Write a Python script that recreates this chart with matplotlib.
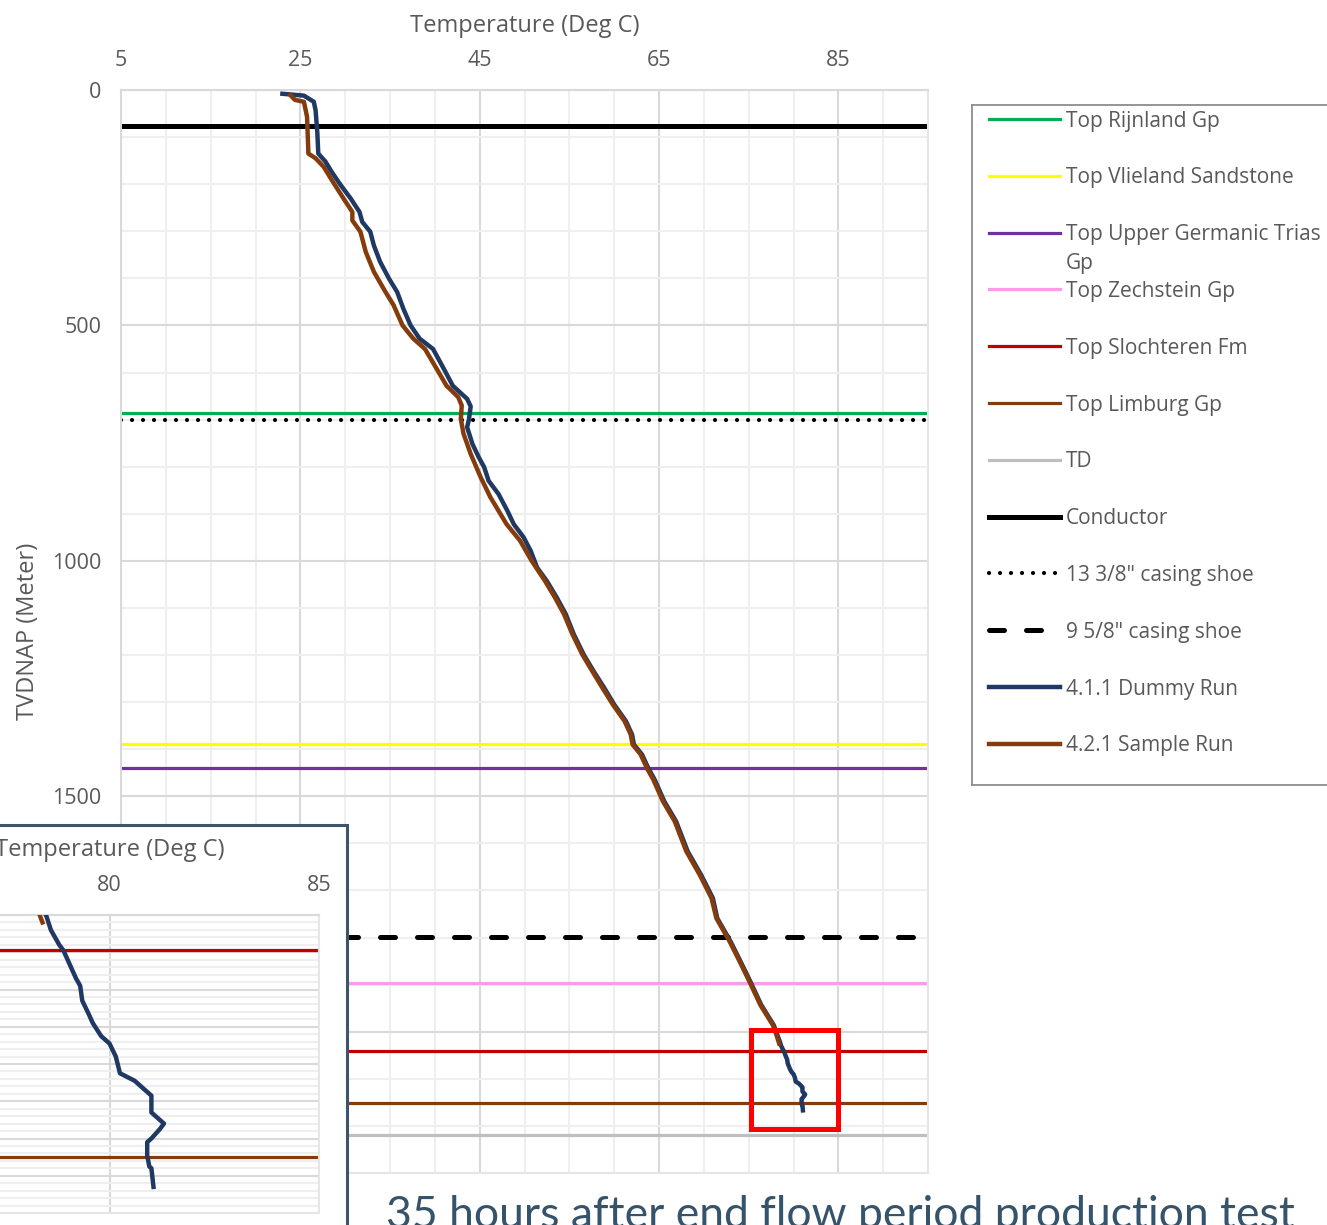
import numpy as np
import matplotlib
matplotlib.use("Agg")
import matplotlib.pyplot as plt
from matplotlib.patches import Rectangle
from matplotlib.lines import Line2D

plt.rcParams['font.family'] = ['Open Sans', 'DejaVu Sans']

W, H = 1327, 1225

# temperature logs (depth in m TVDNAP, temperature in deg C)
dummy_depth = [8, 12, 25, 43, 92, 135, 152, 174, 202, 230, 259, 280, 301, 330, 365, 401, 429, 465,
               500, 528, 550, 592, 628, 656, 672, 700, 716, 752, 780, 801, 830, 858, 894, 922, 950,
               979, 1014, 1043, 1078, 1113, 1156, 1199, 1234, 1270, 1305, 1340, 1369, 1390, 1411,
               1440, 1464, 1511, 1553, 1617, 1667, 1716, 1759, 1809, 1851, 1894, 1943, 1986, 2007,
               2022, 2029, 2037, 2040, 2045, 2050, 2055, 2059, 2067, 2074, 2079, 2086, 2090, 2097,
               2106, 2110, 2115, 2118, 2127, 2133, 2136, 2141, 2143, 2150, 2156, 2157, 2167]
dummy_temp = [23.0, 25.4, 26.5, 26.7, 26.9, 27.0, 27.8, 28.5, 29.5, 30.6, 31.6, 31.9, 32.8, 33.2,
              33.9, 34.9, 35.8, 36.5, 37.3, 38.3, 39.8, 41.0, 42.0, 43.6, 44.0, 43.8, 43.6, 44.2,
              44.9, 45.5, 46.0, 47.1, 48.1, 48.8, 49.9, 50.7, 51.4, 52.5, 53.6, 54.6, 55.5, 56.6,
              57.7, 58.9, 60.0, 61.3, 62.0, 62.2, 63.1, 63.8, 64.5, 65.6, 66.9, 68.2, 69.7, 71.0,
              71.5, 73.0, 74.1, 75.2, 76.4, 77.8, 78.2,
              78.5, 78.6, 78.8, 78.9, 79.0, 79.1, 79.2, 79.3, 79.35, 79.5, 79.6, 79.8, 80.0, 80.15,
              80.25, 80.6, 80.85, 81.0, 81.0, 81.3, 81.2, 81.0, 80.9, 80.9, 80.95, 81.0, 81.05]

sample_depth = [11, 21, 25, 57, 135, 145, 163, 191, 230, 259, 277, 301, 344, 386, 429, 457, 500,
                528, 550, 592, 628, 652, 670, 699, 730, 773, 822, 865, 922, 957, 1000, 1043, 1078,
                1113, 1156, 1199, 1234, 1270, 1305, 1340, 1369, 1390, 1411, 1440, 1464, 1511, 1553,
                1617, 1667, 1716, 1759, 1809, 1851, 1894, 1943, 1986, 2007, 2025]
sample_temp = [23.9, 24.4, 25.4, 25.75, 25.9, 26.7, 27.6, 28.5, 29.8, 30.8, 30.8, 31.7, 32.3, 33.2,
               34.5, 35.4, 36.4, 37.6, 38.9, 40.2, 41.3, 42.6, 43.0, 42.9, 43.2, 44.0, 45.1, 46.2,
               48.0, 49.5, 50.8, 52.3, 53.4, 54.4, 55.35, 56.45, 57.55, 58.7, 59.85, 61.15, 61.85,
               62.05, 62.95, 63.65, 64.35, 65.45, 66.75, 68.05, 69.55, 70.85, 71.4, 72.9, 74.0,
               75.1, 76.3, 77.7, 78.1, 78.4]

# formation tops and casing points (m)
top_names = ["Top Rijnland Gp", "Top Vlieland Sandstone", "Top Upper Germanic Trias\nGp",
             "Top Zechstein Gp", "Top Slochteren Fm", "Top Limburg Gp", "TD"]
top_depths = [687, 1389, 1440, 1896, 2040, 2151, 2219]
casing_names = ["Conductor", '13 3/8" casing shoe', '9 5/8" casing shoe']
casing_depths = [77, 700, 1799]
run_names = ["4.1.1 Dummy Run", "4.2.1 Sample Run"]

# zoom window shown in the inset
zoom_box = (75.3, 1996, 85.0, 2207)

# styles
top_colors = ['#00B050', '#FFFF00', '#7030A0', '#FA9CEC', '#C00000', '#843C0C', '#BFBFBF']
casing_styles = [dict(ls='-', lw=3.6),
                 dict(ls=(0, (0.01, 2.63)), lw=3.0, dash_capstyle='round'),
                 dict(ls=(0, (3.0, 4.4)), lw=3.6, dash_capstyle='round')]
run_colors = ['#203864', '#843C0C']
TXT = '#595959'


def px_axes(left, top, right, bottom):
    return fig.add_axes([left / W, 1 - bottom / H, (right - left) / W, (bottom - top) / H])


def style_axes(ax, xticks, xminor, yticks, yminor):
    ax.xaxis.tick_top()
    ax.xaxis.set_label_position('top')
    ax.set_xticks(xticks)
    ax.set_xticks(xminor, minor=True)
    ax.set_yticks(yticks)
    ax.set_yticks(yminor, minor=True)
    ax.set_axisbelow(True)
    ax.grid(which='major', color='#D9D9D9', lw=1.5)
    ax.grid(which='minor', color='#EFEFEF', lw=1.5)
    ax.tick_params(which='both', length=0, labelsize=15.5, labelcolor=TXT, pad=14)
    for s in ['top', 'left']:
        ax.spines[s].set_color('#D9D9D9')
        ax.spines[s].set_linewidth(1.5)
    for s in ['bottom', 'right']:
        ax.spines[s].set_color('#E6E6E6')
        ax.spines[s].set_linewidth(1.5)
    ax.set_xlabel('Temperature (Deg C)', fontsize=17, color=TXT, labelpad=13)


def draw_profile(ax, trace_lw):
    handles = []
    for d, c in zip(top_depths, top_colors):
        handles.append(ax.axhline(d, color=c, lw=2.3, zorder=2))
    for d, st in zip(casing_depths, casing_styles):
        handles.append(ax.axhline(d, color='black', zorder=2, **st))
    handles.append(ax.plot(dummy_temp, dummy_depth, color=run_colors[0], lw=trace_lw, zorder=3)[0])
    handles.append(ax.plot(sample_temp, sample_depth, color=run_colors[1], lw=trace_lw, zorder=3)[0])
    return handles


fig = plt.figure(figsize=(W / 100, H / 100), dpi=100)

# main chart
ax = px_axes(121, 90, 928, 1173)
handles = draw_profile(ax, 3.2)
ax.set_xlim(5, 95)
ax.set_ylim(2300, 0)
style_axes(ax, np.arange(5, 96, 20), np.arange(5, 96, 5),
           np.arange(0, 2001, 500), np.arange(0, 2301, 100))
ax.set_ylabel('TVDNAP (Meter)', fontsize=17, color=TXT, labelpad=9)
x0, y0, x1, y1 = zoom_box
ax.add_patch(Rectangle((x0, y0), x1 - x0, y1 - y0, fill=False, ec='#FF0000', lw=3.6,
                       joinstyle='miter', zorder=5))

# inset chart with white chart area
fig.add_artist(Rectangle((-0.05, -0.05), 347 / W + 0.05, 1 - 825 / H + 0.05,
                         transform=fig.transFigure, facecolor='white', edgecolor='#3E5569',
                         lw=2.2, zorder=1))
axi = px_axes(-100, 915, 319, 1213)
axi.set_zorder(2)
draw_profile(axi, 3.2)
axi.set_xlim(75, 85)
axi.set_ylim(2181, 2021)
style_axes(axi, [80, 85], [], np.arange(2021, 2182, 20), np.arange(2021, 2182, 4))
axi.tick_params(axis='y', labelleft=False)

# legend drawn by hand so the wrapped label keeps the Excel spacing
leg = px_axes(972, 105, 1400, 785)
leg.set_xlim(0, 428)
leg.set_ylim(680, 0)
leg.set_xticks([])
leg.set_yticks([])
for s in leg.spines.values():
    s.set_color('#8C8C8C')
    s.set_linewidth(1.3)
labels = top_names + casing_names + run_names
for i, (h, lab) in enumerate(zip(handles, labels)):
    y = 14 + 56.8 * i
    leg.add_line(Line2D([17, 88], [y, y], color=h.get_color(), lw=h.get_linewidth(),
                        ls=h.get_linestyle(), dash_capstyle=h.get_dash_capstyle()))
    if h.get_linestyle() != '-':
        leg.lines[-1].set_dashes(h._unscaled_dash_pattern[1] if h._unscaled_dash_pattern[1] else None)
    for k, part in enumerate(lab.split('\n')):
        leg.text(94, y + 7.5 + 29.4 * k, part, fontsize=15, color=TXT, va='baseline')

fig.text(386 / W, 1 - 1228 / H, '35 hours after end flow period production test',
         fontsize=32, family='Lato', color='#35536A', va='baseline')

fig.savefig('out.png', dpi=100)
